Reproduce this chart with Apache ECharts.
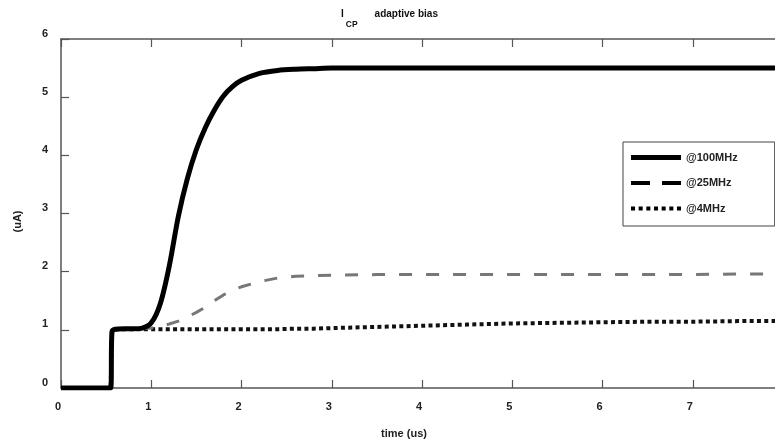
<!DOCTYPE html>
<html>
<head>
<meta charset="utf-8">
<script src="https://cdn.jsdelivr.net/npm/echarts@6/dist/echarts.min.js"></script>
<style>html,body{margin:0;padding:0;background:#fff}#c{width:775px;height:446px}</style>
</head>
<body>
<div id="c"></div>
<script>
// time (us)
const time = [0, 0.55, 0.565, 0.6, 0.7, 0.8, 0.9, 1.0, 1.1, 1.2, 1.3, 1.4, 1.5, 1.6, 1.7, 1.8, 1.9, 2.0, 2.2, 2.4, 2.6, 2.8, 3.0, 3.5, 4.0, 4.5, 5.0, 5.5, 6.0, 6.5, 7.0, 7.5, 8.0];
// ICP (uA)
const i100MHz = [0, 0, 0.97, 1.01, 1.02, 1.02, 1.03, 1.12, 1.45, 2.1, 2.95, 3.6, 4.1, 4.48, 4.78, 5.02, 5.18, 5.29, 5.41, 5.46, 5.48, 5.49, 5.5, 5.5, 5.5, 5.5, 5.5, 5.5, 5.5, 5.5, 5.5, 5.5, 5.5];
const i25MHz  = [0, 0, 0.97, 1.01, 1.02, 1.02, 1.02, 1.03, 1.06, 1.1, 1.15, 1.22, 1.3, 1.39, 1.5, 1.6, 1.68, 1.74, 1.83, 1.89, 1.92, 1.93, 1.94, 1.95, 1.95, 1.95, 1.95, 1.95, 1.95, 1.95, 1.95, 1.96, 1.96];
const i4MHz   = [0, 0, 0.97, 1.01, 1.01, 1.01, 1.01, 1.01, 1.01, 1.01, 1.01, 1.01, 1.01, 1.01, 1.01, 1.01, 1.01, 1.01, 1.01, 1.01, 1.02, 1.02, 1.03, 1.05, 1.07, 1.09, 1.11, 1.12, 1.13, 1.14, 1.14, 1.15, 1.15];
const seriesNames = ['@100MHz', '@25MHz', '@4MHz'];
const xTicks = [0, 1, 2, 3, 4, 5, 6, 7, 8];
const yTicks = [0, 1, 2, 3, 4, 5, 6];

const zip = (ys) => time.map((t, i) => [t, ys[i]]);
const axisColor = '#555';
const lblStyle = {fontSize: 11, fontWeight: 'bold', color: '#222', fontFamily: 'Liberation Sans, Arial, sans-serif'};

// legend glyphs (line samples)
const iconSolid = 'path://M0,0h50v5h-50z';
const iconDash = 'path://M0,0h19v4h-19zM31,0h19v4h-19z';
let dotPath = 'path://';
for (let k = 0; k < 7; k++) dotPath += 'M' + (k * 7.6) + ',0h4v4h-4z';
const iconDot = dotPath;

const chart = echarts.init(document.getElementById('c'), null, {renderer: 'canvas'});
chart.setOption({
  animation: false,
  backgroundColor: '#fff',
  textStyle: {fontFamily: 'Liberation Sans, Arial, sans-serif'},
  title: {
    left: 336, top: 4,
    text: '{a|I}{b|CP}{c|adaptive bias}',
    textStyle: {
      rich: {
        a: {fontSize: 10, fontWeight: 'bold', color: '#111', verticalAlign: 'top', lineHeight: 12},
        b: {fontSize: 8.5, fontWeight: 'bold', color: '#111', verticalAlign: 'top', padding: [11, 0, 0, 2], lineHeight: 10},
        c: {fontSize: 10, fontWeight: 'bold', color: '#111', verticalAlign: 'top', padding: [0, 0, 0, 17], lineHeight: 12}
      }
    }
  },
  grid: {left: 61, top: 39, width: 722, bottom: 58, containLabel: false, outerBoundsMode: 'none'},
  legend: {
    orient: 'vertical', left: 623, top: 142,
    padding: [10, 37, 12, 8],
    itemWidth: 50, itemHeight: 12, itemGap: 14.5,
    symbolKeepAspect: true,
    borderColor: '#444', borderWidth: 1, backgroundColor: '#fff',
    textStyle: {fontSize: 11, fontWeight: 'bold', color: '#222'},
    data: [
      {name: seriesNames[0], icon: iconSolid, itemStyle: {color: '#000'}},
      {name: seriesNames[1], icon: iconDash, itemStyle: {color: '#000'}},
      {name: seriesNames[2], icon: iconDot, itemStyle: {color: '#000'}}
    ]
  },
  xAxis: [
    {type: 'value', min: xTicks[0], max: xTicks[xTicks.length - 1], interval: 1, position: 'bottom',
     axisLine: {show: true, onZero: false, lineStyle: {color: axisColor, width: 1.5}},
     axisTick: {show: true, inside: true, length: 8, lineStyle: {color: axisColor, width: 1.2}},
     axisLabel: Object.assign({margin: 13, padding: [0, 6, 0, 0], formatter: v => (v === 8 ? '' : String(v))}, lblStyle),
     splitLine: {show: false},
     name: 'time (us)', nameLocation: 'middle', nameGap: 40,
     nameTextStyle: Object.assign({padding: [0, 36, 0, 0]}, lblStyle)},
    {type: 'value', min: xTicks[0], max: xTicks[xTicks.length - 1], interval: 1, position: 'top',
     axisLine: {show: true, onZero: false, lineStyle: {color: axisColor, width: 1.5}},
     axisTick: {show: true, inside: true, length: 8, lineStyle: {color: axisColor, width: 1.2}},
     axisLabel: {show: false}, splitLine: {show: false}}
  ],
  yAxis: [
    {type: 'value', min: yTicks[0], max: yTicks[yTicks.length - 1], interval: 1, position: 'left',
     axisLine: {show: true, onZero: false, lineStyle: {color: axisColor, width: 1.5}},
     axisTick: {show: true, inside: true, length: 8, lineStyle: {color: axisColor, width: 1.2}},
     axisLabel: Object.assign({margin: 13, verticalAlign: 'bottom'}, lblStyle),
     splitLine: {show: false},
     name: '(uA)', nameLocation: 'middle', nameGap: 38, nameRotate: 90,
     nameTextStyle: Object.assign({padding: [0, 16, 0, 0]}, lblStyle)},
    {type: 'value', min: yTicks[0], max: yTicks[yTicks.length - 1], interval: 1, position: 'right',
     axisLine: {show: true, onZero: false, lineStyle: {color: axisColor, width: 1.5}},
     axisTick: {show: true, inside: true, length: 8, lineStyle: {color: axisColor, width: 1.2}},
     axisLabel: {show: false}, splitLine: {show: false}}
  ],
  series: [
    {name: seriesNames[2], type: 'line', data: zip(i4MHz), showSymbol: false, symbol: 'none', z: 2,
     lineStyle: {color: '#111', width: 4, type: [4, 3.3], cap: 'butt'}, itemStyle: {color: '#111'}},
    {name: seriesNames[1], type: 'line', data: zip(i25MHz), showSymbol: false, symbol: 'none', z: 3,
     lineStyle: {color: '#777', width: 3, type: [13, 14], cap: 'butt'}, itemStyle: {color: '#777'}},
    {name: seriesNames[0], type: 'line', data: zip(i100MHz), showSymbol: false, symbol: 'none', z: 4, smooth: 0.3,
     lineStyle: {color: '#000', width: 5}, itemStyle: {color: '#000'}}
  ]
});
</script>
</body>
</html>
